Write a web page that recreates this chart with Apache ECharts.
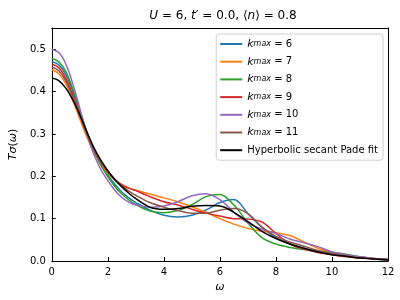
<!DOCTYPE html>
<html><head><meta charset="utf-8">
<script src="https://cdn.jsdelivr.net/npm/echarts@6/dist/echarts.min.js"></script>
<style>html,body{margin:0;padding:0;background:#fff}#c{width:400px;height:300px}</style>
</head><body><div id="c"></div>
<script>
var omega = [0,0.25,0.5,0.75,1,1.25,1.5,1.75,2,2.25,2.5,2.75,3,3.5,4,4.5,5,5.5,6,6.5,7,7.5,8,8.5,9,9.5,10,10.5,11,11.5,12];
var k6  = [0.471,0.463,0.440,0.400,0.352,0.304,0.263,0.229,0.203,0.181,0.163,0.149,0.138,0.120,0.108,0.104,0.108,0.120,0.138,0.145,0.112,0.080,0.055,0.040,0.030,0.021,0.016,0.012,0.008,0.005,0.003];
var k7  = [0.452,0.442,0.418,0.379,0.335,0.293,0.258,0.230,0.207,0.191,0.180,0.172,0.167,0.158,0.149,0.140,0.128,0.115,0.100,0.087,0.077,0.070,0.067,0.060,0.045,0.030,0.020,0.013,0.009,0.006,0.004];
var k8  = [0.478,0.470,0.447,0.406,0.356,0.305,0.262,0.226,0.199,0.176,0.158,0.144,0.133,0.118,0.114,0.119,0.133,0.152,0.157,0.132,0.090,0.055,0.040,0.032,0.027,0.023,0.020,0.016,0.010,0.006,0.003];
var k9  = [0.465,0.456,0.431,0.392,0.346,0.300,0.262,0.233,0.210,0.193,0.180,0.172,0.166,0.152,0.140,0.132,0.122,0.113,0.106,0.100,0.099,0.092,0.065,0.040,0.028,0.020,0.015,0.010,0.007,0.005,0.003];
var k10 = [0.500,0.492,0.465,0.418,0.360,0.300,0.252,0.216,0.190,0.167,0.150,0.139,0.132,0.127,0.130,0.140,0.154,0.159,0.145,0.115,0.090,0.075,0.065,0.052,0.043,0.034,0.022,0.015,0.010,0.006,0.004];
var k11 = [0.458,0.449,0.425,0.387,0.343,0.300,0.263,0.234,0.212,0.193,0.178,0.165,0.155,0.138,0.127,0.119,0.113,0.113,0.120,0.124,0.112,0.080,0.058,0.045,0.035,0.025,0.018,0.012,0.008,0.005,0.003];
var fit = [0.432,0.426,0.408,0.380,0.345,0.305,0.268,0.238,0.213,0.192,0.175,0.160,0.147,0.127,0.122,0.124,0.129,0.131,0.130,0.115,0.093,0.070,0.053,0.040,0.030,0.021,0.015,0.011,0.007,0.005,0.003];
var yTicks = ['0.0','0.1','0.2','0.3','0.4','0.5'];
var names = ['k6','k7','k8','k9','k10','k11','fit'];
var labels = {k6:'6',k7:'7',k8:'8',k9:'9',k10:'10',k11:'11'};
var colors = ['#1f77b4','#ff7f0e','#2ca02c','#d62728','#9467bd','#8c564b','#000000'];
var datas = [k6,k7,k8,k9,k10,k11,fit];

function pairs(arr){ return omega.map(function(x,i){ return [x, arr[i]]; }); }

var font = 'DejaVu Sans';
var series = names.map(function(n,i){
  return {name:n, type:'line', data:pairs(datas[i]), smooth:0.35, showSymbol:false, symbol:'none',
    lineStyle:{color:colors[i], width:1.5}, itemStyle:{color:colors[i]}, z: i===6?10:2+i, animation:false};
});

var chart = echarts.init(document.getElementById('c'), null, {renderer:'canvas'});
chart.setOption({
  animation:false,
  textStyle:{fontFamily:font},
  title:{
    text:'{i|U}{r| = 6, }{i|t}{r|′ = 0.0, ⟨}{i|n}{r|⟩ = 0.8}',
    left:218, top:5, textAlign:'center',
    textStyle:{fontWeight:'normal', rich:{
      i:{fontFamily:font, fontSize:12, fontStyle:'italic', fontWeight:'normal', color:'#000'},
      r:{fontFamily:font, fontSize:12, fontWeight:'normal', color:'#000'}
    }}
  },
  grid:{left:48, right:12, top:28, bottom:39, containLabel:false},
  legend:{
    orient:'vertical', right:17, top:34,
    data:names,
    itemWidth:22, itemHeight:2, itemGap:5.7, icon:'rect',
    backgroundColor:'#fff', borderColor:'#d0d0d0', borderWidth:1, borderRadius:3,
    padding:[4,5,4,4],
    formatter:function(n){
      if(n==='fit') return '{t|Hyperbolic secant Pade fit}';
      return '{i|k}{s|max}{t| = '+labels[n]+'}';
    },
    textStyle:{color:'#000', fontFamily:font, fontSize:10, lineHeight:12, rich:{
      i:{fontFamily:font, fontSize:11, fontStyle:'italic', color:'#000', height:12},
      s:{fontFamily:font, fontSize:8, fontStyle:'italic', color:'#000', verticalAlign:'bottom', padding:[4,0,0,0], height:12},
      t:{fontFamily:font, fontSize:10, color:'#000', height:12}
    }}
  },
  xAxis:[{
    type:'value', min:0, max:12, interval:2,
    name:'ω', nameLocation:'middle', nameGap:21,
    nameTextStyle:{fontFamily:font, fontSize:11, fontStyle:'italic', color:'#000'},
    axisLine:{show:true, onZero:false, lineStyle:{color:'#000', width:1}},
    axisTick:{show:true, inside:true, length:4, lineStyle:{color:'#000'}},
    axisLabel:{color:'#000', fontFamily:font, fontSize:10, margin:6},
    splitLine:{show:false}
  },{
    type:'value', min:0, max:12, position:'top',
    axisLine:{show:true, onZero:false, lineStyle:{color:'#000', width:1}},
    axisTick:{show:false}, axisLabel:{show:false}, splitLine:{show:false}
  }],
  yAxis:[{
    type:'value', min:0, max:0.55, interval:0.1,
    name:'{i|Tσ}{r|(}{i|ω}{r|)}', nameLocation:'middle', nameGap:31, nameRotate:90,
    nameTextStyle:{rich:{
      i:{fontFamily:font, fontSize:11, fontStyle:'italic', color:'#000'},
      r:{fontFamily:font, fontSize:11, color:'#000'}
    }},
    axisLine:{show:true, onZero:false, lineStyle:{color:'#000', width:1}},
    axisTick:{show:true, inside:true, length:4, lineStyle:{color:'#000'}},
    axisLabel:{color:'#000', fontFamily:font, fontSize:10, margin:6, showMaxLabel:false,
      formatter:function(v){ var i=Math.round(v*10); return yTicks[i]!==undefined && Math.abs(v*10-i)<1e-6 ? yTicks[i] : ''; }},
    splitLine:{show:false}
  },{
    type:'value', min:0, max:0.55, position:'right',
    axisLine:{show:true, onZero:false, lineStyle:{color:'#000', width:1}},
    axisTick:{show:false}, axisLabel:{show:false}, splitLine:{show:false}
  }],
  series:series
});
</script></body></html>
